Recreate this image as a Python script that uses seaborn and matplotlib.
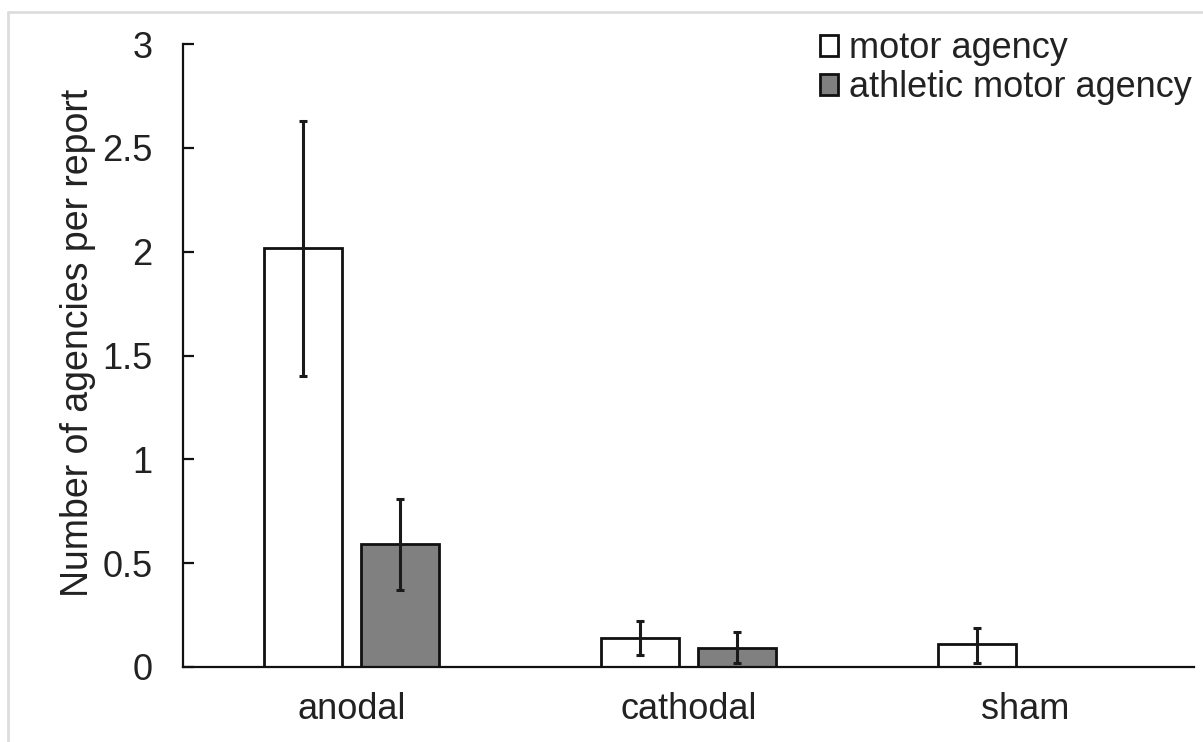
import matplotlib
matplotlib.use("Agg")
import matplotlib.pyplot as plt
import seaborn as sns
import pandas as pd
import numpy as np
from matplotlib.lines import Line2D

# values
conditions = ["anodal", "cathodal", "sham"]
agency_types = ["motor agency", "athletic motor agency"]
motor_mean = [2.02, 0.14, 0.11]
motor_lo = [1.40, 0.06, 0.02]
motor_hi = [2.63, 0.22, 0.19]
athletic_mean = [0.59, 0.09, 0.0]
athletic_lo = [0.37, 0.02, np.nan]
athletic_hi = [0.81, 0.17, np.nan]
y_ticks = [0, 0.5, 1, 1.5, 2, 2.5, 3]
y_tick_labels = ["0", "0.5", "1", "1.5", "2", "2.5", "3"]

rows = []
for i, c in enumerate(conditions):
    rows.append({"condition": c, "type": agency_types[0], "value": motor_mean[i],
                 "lo": motor_lo[i], "hi": motor_hi[i]})
    rows.append({"condition": c, "type": agency_types[1], "value": athletic_mean[i],
                 "lo": athletic_lo[i], "hi": athletic_hi[i]})
df = pd.DataFrame(rows)

sns.set_style("white")
plt.rcParams["font.family"] = ["Liberation Sans", "DejaVu Sans"]

fig = plt.figure(figsize=(12.03, 7.42), dpi=100)
ax = fig.add_axes([183 / 1203, 1 - 667 / 742, 1011 / 1203, 623 / 742])

sns.barplot(data=df, x="condition", y="value", hue="type", order=conditions,
            hue_order=agency_types, palette=["white", "#808080"], edgecolor="#111111",
            linewidth=2, width=0.576, gap=0.2, errorbar=None, ax=ax)

# error bars on top of each bar
for container, t in zip(ax.containers, agency_types):
    sub = df[df["type"] == t].set_index("condition").loc[conditions]
    xs = [p.get_x() + p.get_width() / 2 for p in container.patches]
    means = sub["value"].to_numpy()
    lower = means - sub["lo"].to_numpy()
    upper = sub["hi"].to_numpy() - means
    ok = ~np.isnan(lower)
    ax.errorbar(np.array(xs)[ok], means[ok], yerr=[lower[ok], upper[ok]], fmt="none",
                ecolor="#1a1a1a", elinewidth=2.2, capsize=3.2, capthick=2.2, zorder=5)

ax.set_xlim(-0.5, 2.5)
ax.set_ylim(0, 3)
ax.set_yticks(y_ticks)
ax.set_yticklabels(y_tick_labels)
ax.set_xlabel("")
ax.set_ylabel("Number of agencies per report", fontsize=27, color="#222222")
ax.yaxis.set_label_coords(-0.086, 0.52)

for s in ["top", "right"]:
    ax.spines[s].set_visible(False)
for s in ["left", "bottom"]:
    ax.spines[s].set_color("#111111")
    ax.spines[s].set_linewidth(1.6)

ax.tick_params(axis="y", direction="in", length=8, width=1.6, color="#111111",
               labelsize=26, labelcolor="#222222", pad=22, left=True)
ax.tick_params(axis="x", length=0, labelsize=26, labelcolor="#222222", pad=18)

handles, labels = ax.get_legend_handles_labels()
ax.legend(handles, labels, loc="upper right", bbox_to_anchor=(1210 / 1203, 1 - 13 / 742),
          bbox_transform=fig.transFigure, frameon=False, fontsize=26, borderpad=0,
          handlelength=0.5, handleheight=0.5, handletextpad=0.3, labelspacing=0.12,
          labelcolor="#222222")

# light chart-area border (left and top only visible in the crop)
fig.add_artist(Line2D([8 / 1203, 8 / 1203], [0, 1 - 12 / 742], transform=fig.transFigure,
                      color="#dddddd", linewidth=2))
fig.add_artist(Line2D([8 / 1203, 1], [1 - 12 / 742, 1 - 12 / 742], transform=fig.transFigure,
                      color="#dddddd", linewidth=2))

fig.savefig("out.png", dpi=100)
